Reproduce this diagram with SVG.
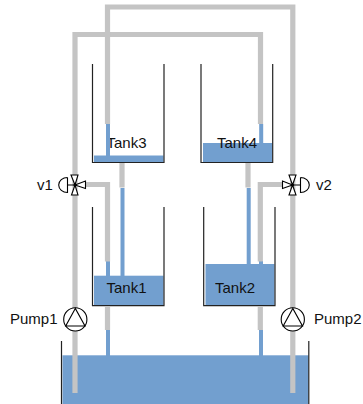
<svg xmlns="http://www.w3.org/2000/svg" width="363" height="404" viewBox="0 0 363 404">
<style>
.water{fill:#729fcf;stroke:none}
.pipe{fill:none;stroke:#c4c4c4;stroke-width:5.2}
.flow{fill:none;stroke:#729fcf;stroke-width:4}
.wall{fill:none;stroke:#222;stroke-width:1.2}
.sym{fill:#fff;stroke:#000;stroke-width:1.1}
.line{fill:none;stroke:#000;stroke-width:1.1}
text{font-family:"Liberation Sans",Arial,sans-serif;font-size:15px;fill:#111}
</style>
<g id="reservoir">
<rect class="water" x="62.5" y="355.3" width="246" height="49"/>
<path class="wall" d="M61.5 341V404M308.8 341V404"/>
</g>
<g id="tank3">
<rect class="water" x="94" y="155.5" width="69.5" height="6.5"/>
<path class="wall" d="M92.5 64V162.5H164V64"/>
<text x="106.5" y="148">Tank3</text>
</g>
<g id="tank4">
<rect class="water" x="203" y="143" width="69" height="19"/>
<path class="wall" d="M201 64V162.5H272.7V64"/>
<text x="217" y="148">Tank4</text>
</g>
<g id="tank1">
<rect class="water" x="94" y="275.7" width="69.5" height="29.5"/>
<path class="wall" d="M92.5 207V305.7H164V207"/>
<text x="106.5" y="293">Tank1</text>
</g>
<g id="tank2">
<rect class="water" x="205.5" y="264" width="69" height="41.2"/>
<path class="wall" d="M203.7 207V305.7H275V207"/>
<text x="215" y="293">Tank2</text>
</g>
<g id="connectors">
<path class="flow" d="M108 124V156M122.5 188V276M108 261V276M108 330V356"/>
<path class="flow" d="M261.2 124V143M248.7 188V264M261 261V264M261 330V356"/>
<path class="pipe" d="M75 393V34.5H260.5V124"/>
<path class="pipe" d="M107.5 124V7H292.8V393"/>
<path class="pipe" d="M82 184.5H107.5V261.5"/>
<path class="pipe" d="M285 184.5H260.3V261.5"/>
<path class="pipe" d="M122 163V187.5M248 163V187.5M107.5 306V330M260.3 306V330"/>
</g>
<g id="v1">
<path class="sym" d="M71 175H78L75 185ZM71.5 195H78L75 185ZM75 185L85.5 181V188.5Z"/>
<path class="line" d="M75 185H67.5M67.5 177.5V192.5A8.8 7.5 0 0 1 67.5 177.5"/>
<circle cx="75" cy="185" r="1.5"/>
<text x="37" y="190">v1</text>
</g>
<g id="v2">
<path class="sym" d="M289 175H296L292.5 185ZM289 195H296L292.5 185ZM292.5 185L282.5 181V188.5Z"/>
<path class="line" d="M292.5 185H300.5M300.5 177.5V192.5A8.8 7.5 0 0 0 300.5 177.5"/>
<circle cx="292.5" cy="185" r="1.5"/>
<text x="316" y="190">v2</text>
</g>
<g id="pump1">
<circle class="sym" cx="75.3" cy="319.4" r="11.6"/>
<path class="line" d="M75.3 308.5L65.7 326H85Z"/>
<text x="10" y="324">Pump1</text>
</g>
<g id="pump2">
<circle class="sym" cx="292.8" cy="319.4" r="11.6"/>
<path class="line" d="M292.8 308.5L283.2 326H302.5Z"/>
<text x="314" y="324">Pump2</text>
</g>
</svg>
